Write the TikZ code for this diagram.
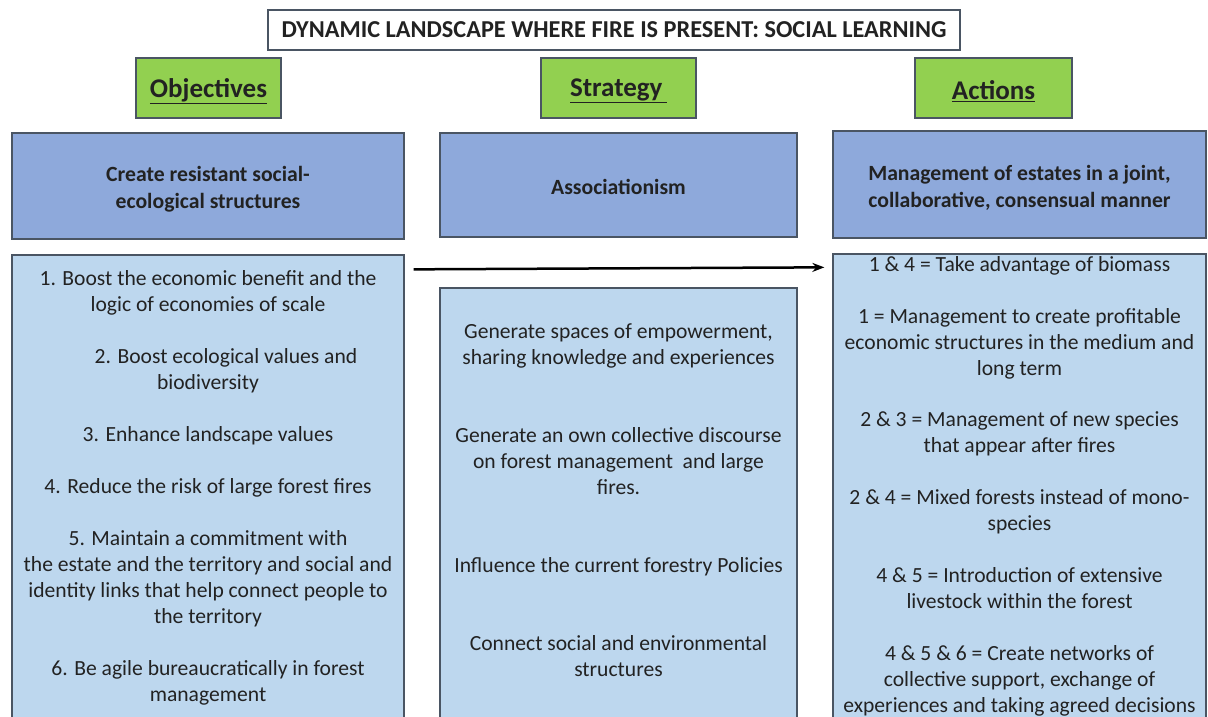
\documentclass[tikz,border=0pt]{standalone}
\usepackage{fontspec}
\setmainfont{Carlito}
\usetikzlibrary{arrows.meta}
\definecolor{hgreen}{HTML}{92D050}
\definecolor{hblue}{HTML}{8EA9DB}
\definecolor{lblue}{HTML}{BDD7EE}
\definecolor{bord}{HTML}{4A5563}
\definecolor{txt}{HTML}{222222}
\newcommand{\hdtext}[1]{\raisebox{-3pt}[\height][\depth]{\underline{#1}}}
\tikzset{
  frame/.style={draw=bord, line width=1.3pt, inner sep=0pt},
  headbox/.style={frame, fill=hgreen, font=\fontsize{27}{30}\selectfont\bfseries, text=txt},
  mainbox/.style={frame, fill=hblue},
  listbox/.style={frame, fill=lblue},
  maintext/.style={align=center, font=\fontsize{21.7}{27}\selectfont\bfseries, text=txt},
  listtext/.style={align=center, font=\fontsize{21.6}{26}\selectfont, text=txt, inner sep=0pt},
}
\begin{document}
\begin{tikzpicture}[x=1pt,y=-1pt]
\useasboundingbox (0,0) rectangle (1208,717);
% title
\node[frame, fill=white, minimum width=692pt, minimum height=40pt, font=\fontsize{24.3}{28}\selectfont\bfseries, text=txt] (title) at (614,30) {DYNAMIC LANDSCAPE WHERE FIRE IS PRESENT: SOCIAL LEARNING};
% headers
\node[headbox, minimum width=145pt, minimum height=60pt] (h1) at (208.5,88) {\hdtext{Objectives}};
\node[headbox, minimum width=155pt, minimum height=60pt] (h2) at (618.5,88) {\hdtext{Strategy\,}};
\node[headbox, minimum width=157pt, minimum height=60pt] (h3) at (993.5,88) {\hdtext{Actions}};
% main boxes
\node[mainbox, minimum width=392pt, minimum height=106pt] (m1) at (208,186) {};
\node[mainbox, minimum width=357pt, minimum height=104pt] (m2) at (618.5,185) {};
\node[mainbox, minimum width=373pt, minimum height=107pt] (m3) at (1019.5,184.5) {};
\node[maintext] (t1) at (208,189.5) {Create resistant social-\\ecological structures};
\node[maintext] (t2) at (618.5,187) {Associationism};
\node[maintext] (t3) at (1019.5,188) {Management of estates in a joint,\\collaborative, consensual manner};
% list boxes
\node[listbox, minimum width=392pt, minimum height=464pt] (l1) at (208,487) {};
\node[listbox, minimum width=357pt, minimum height=431pt] (l2) at (618.5,503.5) {};
\node[listbox, minimum width=373pt, minimum height=465pt] (l3) at (1019.5,486.5) {};
\node[listtext, anchor=north] (lt1) at (208,270) {1. Boost the economic benefit and the\\logic of economies of scale\\[26pt]
\hspace*{36pt}2. Boost ecological values and\\biodiversity\\[26pt]
3. Enhance landscape values\\[26pt]
4. Reduce the risk of large forest fires\\[26pt]
5. Maintain a commitment with\\the estate and the territory and social and\\identity links that help connect people to\\the territory\\[26pt]
6. Be agile bureaucratically in forest\\management};
\node[listtext, anchor=north] (lt2) at (618.5,323) {Generate spaces of empowerment,\\sharing knowledge and experiences\\[52pt]
Generate an own collective discourse\\on forest management\ \ and large\\fires.\\[52pt]
Influence the current forestry Policies\\[52pt]
Connect social and environmental\\structures};
\node[listtext, anchor=north] (lt3) at (1019.5,256) {1 \& 4 = Take advantage of biomass\\[25.8pt]
1 = Management to create profitable\\economic structures in the medium and\\long term\\[25.8pt]
2 \& 3 = Management of new species\\that appear after fires\\[25.8pt]
2 \& 4 = Mixed forests instead of mono-\\species\\[25.8pt]
4 \& 5 = Introduction of extensive\\livestock within the forest\\[25.8pt]
4 \& 5 \& 6 = Create networks of\\collective support, exchange of\\experiences and taking agreed decisions};
% arrow
\draw[line width=2.5pt, -{Stealth[length=12pt,width=9pt]}] ([shift={(9,15)}]l1.north east) -- ([shift={(-8,14)}]l3.north west);
\end{tikzpicture}
\end{document}
